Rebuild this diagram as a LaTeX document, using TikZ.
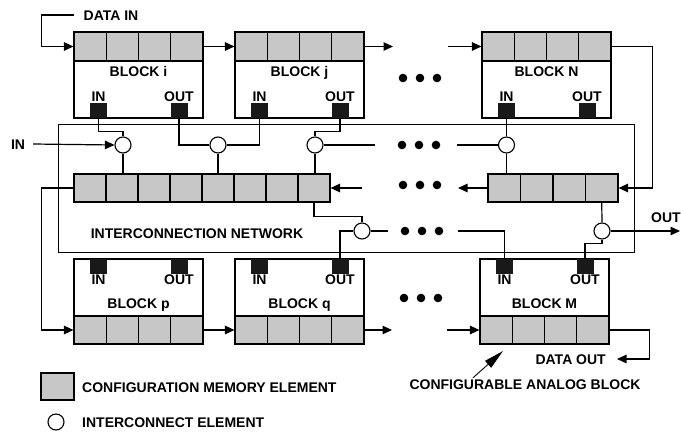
\documentclass[tikz,border=0pt]{standalone}
\usepackage{fontspec}
\setmainfont{Liberation Sans}
\usetikzlibrary{arrows.meta}

\begin{document}
\begin{tikzpicture}[x=1pt, y=-1pt,
  blk/.style={draw, rectangle, line width=1.3pt, minimum width=129pt, minimum height=86pt, inner sep=0pt},
  cell/.style={draw, rectangle, line width=1.1pt, fill=black!22, minimum width=32.25pt, minimum height=29pt, inner sep=0pt},
  pad/.style={fill=black!90, rectangle, minimum width=17pt, minimum height=15pt, inner sep=0pt},
  ic/.style={draw, circle, line width=1.1pt, fill=white, minimum size=16pt, inner sep=0pt},
  lbl/.style={font=\bfseries\fontsize{14}{16}\selectfont, inner sep=1pt, text height=10pt, text depth=0pt},
  wire/.style={line width=1.2pt},
  arr/.style={wire, -{Triangle[length=9.5pt, width=8.5pt]}},
  bigarr/.style={line width=0.9pt, -{Triangle[length=20pt, width=9pt]}}
]
  \useasboundingbox (0,0) rectangle (681,432);

  \node[draw, rectangle, line width=1pt, minimum width=576pt, minimum height=128pt, inner sep=0pt] (net) at (346,188) {};
  \node[lbl] (netl) at (197,233) {INTERCONNECTION NETWORK};

  \foreach \nm/\x/\txt in {bi/74/{BLOCK i}, bj/235/{BLOCK j}, bN/482/{BLOCK N}} {
    \node[blk] (\nm) at (\x+64.5,75) {};
    \foreach \k in {1,...,4}
      \node[cell] (\nm-\k) at (\x+32.25*\k-16.125,46.5) {};
    \node[lbl] (\nm-lbl) at (\x+64.5,71) {\txt};
    \node[pad] (\nm-in)  at (\x+24.5,110.5) {};
    \node[pad] (\nm-out) at (\x+105,110.5) {};
    \node[lbl] (\nm-inl)  at (\x+24.5,96) {IN};
    \node[lbl] (\nm-outl) at (\x+105,96) {OUT};
  }

  \foreach \nm/\x/\txt in {bp/74/{BLOCK p}, bq/235/{BLOCK q}, bM/480/{BLOCK M}} {
    \node[blk, minimum height=85pt] (\nm) at (\x+64.5,301.5) {};
    \foreach \k in {1,...,4}
      \node[cell, minimum height=28pt] (\nm-\k) at (\x+32.25*\k-16.125,330) {};
    \node[lbl] (\nm-lbl) at (\x+64.5,303) {\txt};
    \node[pad] (\nm-in)  at (\x+24.5,266) {};
    \node[pad] (\nm-out) at (\x+105,266) {};
    \node[lbl] (\nm-inl)  at (\x+24.5,279.5) {IN};
    \node[lbl] (\nm-outl) at (\x+105,279.5) {OUT};
  }

  \foreach \k in {1,...,8}
    \node[cell, minimum width=32pt, minimum height=28pt] (lb-\k) at (74+32*\k-16,188) {};
  \foreach \k in {1,...,4}
    \node[cell, minimum width=32.5pt, minimum height=28pt] (rb-\k) at (488+32.5*\k-16.25,188) {};

  \node[ic] (c1) at (123,145) {};
  \node[ic] (c2) at (218,145) {};
  \node[ic] (c3) at (315,145) {};
  \node[ic] (c4) at (506.5,145) {};
  \node[ic] (c5) at (362,231) {};
  \node[ic] (c6) at (602,231) {};

  \node[lbl] (din)  at (111,15) {DATA IN};
  \node[lbl] (inl)  at (18,144) {IN};
  \node[lbl] (outl) at (666,217) {OUT};
  \node[lbl, anchor=east] (dout) at (607,359) {DATA OUT};
  \node[lbl] (cab) at (525,384) {CONFIGURABLE ANALOG BLOCK};

  \coordinate (t1) at (393,46.5);  \coordinate (t2) at (448,46.5);
  \coordinate (u1) at (375,145);   \coordinate (u2) at (457,145);
  \coordinate (m1) at (458,188);   \coordinate (m2) at (362,188);
  \coordinate (w1) at (388,231);   \coordinate (w2) at (458,231);
  \coordinate (b1) at (392,330);   \coordinate (b2) at (447,330);
  \coordinate (outr) at (680,231);
  \coordinate (cabtip) at (503,351);

  \foreach \cx/\cy in {420/78, 419/145, 420/185, 422/231, 421/298}
    \foreach \dx in {-17,0,17}
      \fill (\cx+\dx,\cy) circle (4.3pt);

  % configuration chain
  \draw[arr] ([xshift=-8pt]din.west) -- ++(-33,0) |- (bi-1.west);
  \draw[arr] (bi-4.east) -- (bj-1.west);
  \draw[arr] (bj-4.east) -- (t1);
  \draw[arr] (t2) -- (bN-1.west);
  \draw[arr] (bN-4.east) -- ++(41,0) |- (rb-4.east);
  \draw[arr] (rb-1.west) -- (m1);
  \draw[arr] (m2) -- (lb-8.east);
  \draw[arr] (lb-1.west) -- ++(-32,0) |- (bp-1.west);
  \draw[arr] (bp-4.east) -- (bq-1.west);
  \draw[arr] (bq-4.east) -- (b1);
  \draw[arr] (b2) -- (bM-1.west);
  \draw[arr] (bM-4.east) -- ++(40,0) |- ([xshift=10pt]dout.east);

  % signal paths
  \draw[arr] ([xshift=7pt]inl.east) -- (c1.west);
  \draw[wire] (bi-in.south) |- ([yshift=5pt]c1.north) -- (c1.north);
  \draw[wire] (c1.south) -- (c1.south |- lb-2.north);
  \draw[wire] (bi-out.south) |- (c2.west);
  \draw[wire] (c2.east) -| (bj-in.south);
  \draw[wire] (c2.south) -- (c2.south |- lb-5.north);
  \draw[wire] (bj-out.south) |- ([yshift=5pt]c3.north) -- (c3.north);
  \draw[wire] (c3.east) -- (u1);
  \draw[wire] (c3.south) -- (c3.south |- lb-8.north);
  \draw[wire] (u2) -- (c4.west);
  \draw[wire] (c4.north) -- (c4.north |- bN-in.south);
  \draw[wire] (c4.south) -- (c4.south |- rb-1.north);
  \draw[wire] (lb-8.south) |- ([yshift=6pt]c5.north) -- (c5.north);
  \draw[wire] (bq-out.north) |- (c5.west);
  \draw[wire] (c5.east) -- (w1);
  \draw[wire] (w2) -| (bM-in.north);
  \draw[wire] (rb-4.south) -- (c6.north);
  \draw[arr] (c6.east) -- (outr);
  \draw[wire] (c6.south) -- ++(0,4) -| (bM-out.north);

  \draw[bigarr] ([xshift=-52pt]cab.north) -- (cabtip);

  \node[cell, minimum width=33pt, minimum height=27pt] (leg1) at (57.5,386.5) {};
  \node[lbl, anchor=west] (leg1t) at (81,387) {CONFIGURATION MEMORY ELEMENT};
  \node[ic] (leg2) at (56,422) {};
  \node[lbl, anchor=west] (leg2t) at (81,422) {INTERCONNECT ELEMENT};
\end{tikzpicture}
\end{document}
